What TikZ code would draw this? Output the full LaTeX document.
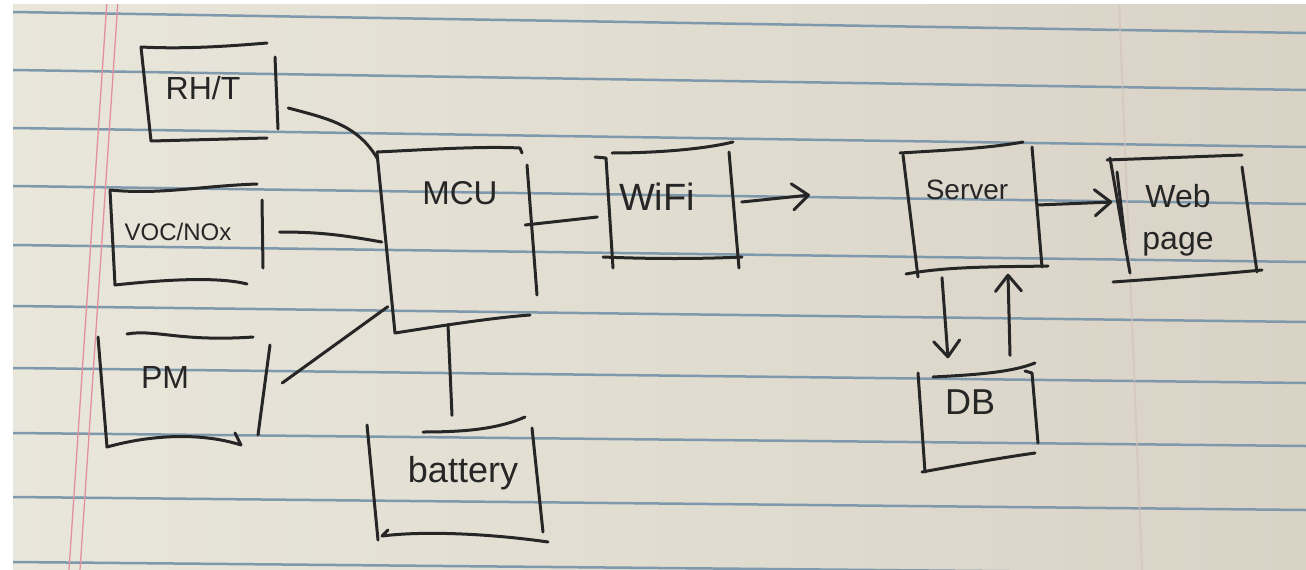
\documentclass[tikz,border=0pt]{standalone}
\usepackage{fontspec}
\setmainfont{Liberation Sans}
\usetikzlibrary{arrows.meta,calc}
\definecolor{ink}{HTML}{262626}
\definecolor{paperL}{HTML}{E9E6DB}
\definecolor{paperR}{HTML}{D9D3C6}
\definecolor{rulecol}{HTML}{7E98AC}
\definecolor{margincol}{HTML}{E3909E}
\definecolor{faintcol}{HTML}{D2C1BC}
\begin{document}
\begin{tikzpicture}[x=1pt,y=-1pt,
  pen/.style={draw=ink,line width=3pt,line cap=round,line join=round},
  box/.style={draw=none,inner sep=0pt},
  lbl/.style={text=ink,inner sep=0pt,align=center},
  harrow/.style={pen,-{Straight Barb[round,length=16pt,width=26pt]}}]
\useasboundingbox (0,0) rectangle (1306,570);
% paper
\fill[left color=paperL,right color=paperR] (0,0) rectangle (1306,570);
\foreach \yy/\dd in {12/21,70/20,128/19,186/18,245/17,306/16,368/15,433/13,497/13,562/12}
  \draw[rulecol,line width=2.5pt] (13,\yy) -- (1306,\yy+\dd);
\draw[margincol,line width=1.3pt] (107,0) -- (69,570);
\draw[margincol,line width=1.3pt] (118,0) -- (80,570);
\draw[faintcol,line width=2pt,opacity=.6] (1119,0) -- (1142,570);
\fill[white] (0,0) rectangle (13,570);
\fill[white] (0,0) rectangle (1306,4);

% nodes
\node[box,minimum width=136pt,minimum height=97pt,
  label={[lbl,font=\fontsize{32}{34}\selectfont,xshift=-7pt,yshift=5pt]center:RH/T}] (rht) at (210,93) {};
\node[box,minimum width=153pt,minimum height=99pt,
  label={[lbl,font=\fontsize{24}{26}\selectfont,xshift=-8pt,yshift=4pt]center:VOC/NOx}] (voc) at (186,236) {};
\node[box,minimum width=172pt,minimum height=114pt,
  label={[lbl,font=\fontsize{32}{34}\selectfont,xshift=-19pt,yshift=13pt]center:PM}] (pm) at (184,390) {};
\node[box,minimum width=160pt,minimum height=185pt,
  label={[lbl,font=\fontsize{33}{35}\selectfont,xshift=3pt,yshift=47pt]center:MCU}] (mcu) at (457,240) {};
\node[box,minimum width=143pt,minimum height=126pt,
  label={[lbl,font=\fontsize{38}{40}\selectfont,xshift=-11pt,yshift=8pt]center:WiFi}] (wifi) at (668,205) {};
\node[box,minimum width=181pt,minimum height=125pt,
  label={[lbl,font=\fontsize{36}{38}\selectfont,xshift=6pt,yshift=7pt]center:battery}] (bat) at (457,480) {};
\node[box,minimum width=145pt,minimum height=135pt,
  label={[lbl,font=\fontsize{28}{30}\selectfont,xshift=-5pt,yshift=20pt]center:Server}] (srv) at (972,210) {};
\node[box,minimum width=153pt,minimum height=127pt,
  label={[lbl,font=\fontsize{32}{42}\selectfont,xshift=-5pt,yshift=-2pt]center:Web\\page}] (web) at (1183,218) {};
\node[box,minimum width=120pt,minimum height=109pt,
  label={[lbl,font=\fontsize{36}{38}\selectfont,xshift=-8pt,yshift=16pt]center:DB}] (db) at (978,418) {};

% hand-drawn box strokes
% RH/T
\draw[pen] (267,43) .. controls (220,47) and (180,49) .. (141,47) -- (151,141) -- (267,138);
\draw[pen] (275,57) -- (278,129);
% VOC/NOx
\draw[pen] (257,184) .. controls (200,186) and (160,195) .. (110,190) -- (115,285) .. controls (170,279) and (220,277) .. (247,284);
\draw[pen] (262,200) -- (263,268);
% PM
\draw[pen] (127,334) .. controls (155,329) and (180,342) .. (253,337);
\draw[pen] (98,337) -- (107,447) .. controls (150,435) and (200,432) .. (241,445) -- (235,433);
\draw[pen] (270,345) -- (258,435);
% MCU
\draw[pen] (377,152) .. controls (420,150) and (480,146) .. (520,148) -- (522,153);
\draw[pen] (377,153) -- (395,333) .. controls (440,326) and (490,318) .. (530,315);
\draw[pen] (527,165) -- (537,295);
% WiFi
\draw[pen] (595,157) -- (606,158) -- (613,268);
\draw[pen] (612,153) .. controls (650,153) and (700,150) .. (733,142);
\draw[pen] (729,152) -- (739,268);
\draw[pen] (603,257) .. controls (650,259) and (700,259) .. (742,257);
% battery
\draw[pen] (423,432) .. controls (470,432) and (500,428) .. (525,417);
\draw[pen] (367,425) -- (378,540);
\draw[pen] (388,530) -- (382,536) .. controls (430,530) and (500,535) .. (548,542);
\draw[pen] (532,428) -- (543,532);
% Server
\draw[pen] (900,153) .. controls (950,150) and (990,148) .. (1023,142);
\draw[pen] (903,155) -- (918,277);
\draw[pen] (906,274) .. controls (950,266) and (1000,267) .. (1048,266);
\draw[pen] (1032,147) -- (1042,267);
% Web page
\draw[pen] (1107,160) -- (1242,155);
\draw[pen] (1110,158) -- (1130,273);
\draw[pen] (1117,172) -- (1125,240);
\draw[pen] (1242,167) -- (1257,272);
\draw[pen] (1113,282) .. controls (1170,278) and (1220,274) .. (1262,270);
% DB
\draw[pen] (933,377) .. controls (970,375) and (1010,373) .. (1035,363);
\draw[pen] (918,373) -- (925,472);
\draw[pen] (922,472) .. controls (960,465) and (1000,458) .. (1035,453);
\draw[pen] (1025,371) -- (1032,373) -- (1038,443);

% connectors
\draw[pen] ($(rht.east)+(10,15)$) to[out=-15,in=120] ($(mcu.north west)+(1,12)$);
\draw[pen] ($(voc.east)+(17,-4)$) to[out=0,in=170] ($(mcu.west)+(5,2)$);
\draw[pen] ($(pm.east)+(12,-7)$) -- ($(mcu.south west)+(11,-26)$);
\draw[pen] ($(mcu.east)+(-12,-15)$) -- ($(wifi.west)+(1,12)$);
\draw[pen] ($(mcu.south)+(-9,-8)$) -- ($(bat.north)+(-5,-2)$);
\coordinate (wout) at (810,195);
\draw[harrow] ($(wifi.east)+(2,-3)$) -- (wout);
\draw[harrow] ($(srv.east)+(-7,-5)$) -- ($(web.west)+(6,-16)$);
\draw[harrow] ($(srv.south)+(-30,0)$) -- ($(db.north)+(-30,-5)$);
\draw[harrow] ($(db.north)+(32,-8)$) -- ($(srv.south)+(36,-4)$);
\end{tikzpicture}
\end{document}
